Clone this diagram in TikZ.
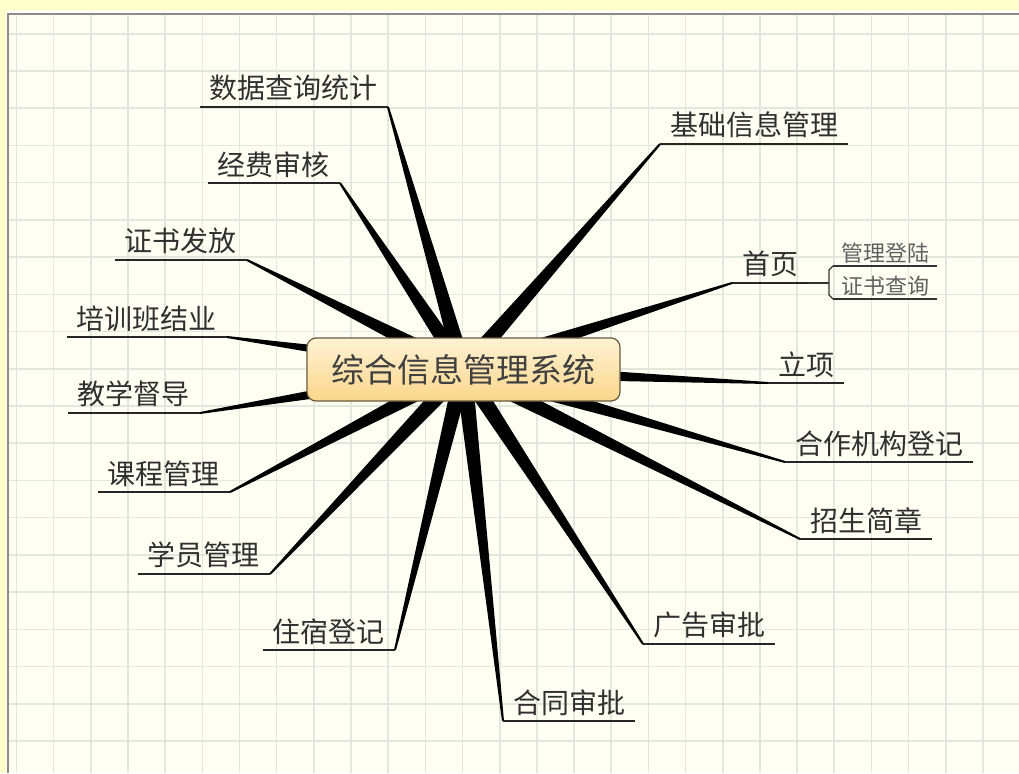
\documentclass[tikz,border=0pt]{standalone}
\usepackage{fontspec}
\setmainfont{Noto Sans CJK SC}
\usetikzlibrary{calc}
\definecolor{paper}{RGB}{255,255,244}
\definecolor{frame}{RGB}{255,255,204}
\definecolor{gridc}{RGB}{226,233,220}
\definecolor{ink}{RGB}{48,48,48}
\definecolor{hubtop}{RGB}{254,242,212}
\definecolor{hubbot}{RGB}{251,214,138}
\definecolor{hubline}{RGB}{105,92,62}

\begin{document}
\begin{tikzpicture}[x=1pt,y=-1pt,
  leaf/.style={font=\fontsize{28pt}{31pt}\selectfont, text=ink, inner xsep=10pt, inner ysep=5.5pt,
    append after command={(\tikzlastnode.south west) edge[line width=1.3pt, black!85] (\tikzlastnode.south east)}},
  subleaf/.style={font=\fontsize{22pt}{25pt}\selectfont, text=black!62, inner xsep=8pt, inner ysep=3pt,
    append after command={(\tikzlastnode.south west) edge[line width=1.1pt, black!80] (\tikzlastnode.south east)}},
  twig/.style={draw=none, fill=black, to path={
    ($(\tikztostart)!8.5pt!90:(\tikztotarget)$) -- ($(\tikztotarget)!1pt!-90:(\tikztostart)$)
    -- ($(\tikztotarget)!1pt!90:(\tikztostart)$) -- ($(\tikztostart)!8.5pt!-90:(\tikztotarget)$) -- cycle}},
  hub/.style={draw=hubline, line width=1.2pt, rounded corners=9pt, top color=hubtop, bottom color=hubbot,
    minimum width=313pt, minimum height=63pt, text=black!75, font=\fontsize{33pt}{36pt}\selectfont}]
\useasboundingbox (0,0) rectangle (1019,773);

% paper and grid
\fill[frame] (0,0) rectangle (1019,773);
\fill[paper] (6,10) rectangle (1019,773);
\foreach \i in {0,...,27} \draw[gridc, line width=1.6pt] (16.5+37.17*\i,15) -- (16.5+37.17*\i,773);
\foreach \j in {0,...,19} \draw[gridc, line width=1.6pt] (9,33.8+37.22*\j) -- (1019,33.8+37.22*\j);
\draw[black!45, line width=1.6pt] (8.2,773) -- (8.2,14.2) -- (1019,14.2);

% branches on the left
\node[leaf, anchor=south east] (sjcx) at (388,107) {数据查询统计};
\node[leaf, anchor=south east] (jfsh) at (340,183) {经费审核};
\node[leaf, anchor=south east] (zsff) at (247,260) {证书发放};
\node[leaf, anchor=south east] (pxbjy) at (227,337) {培训班结业};
\node[leaf, anchor=south east] (jxdd) at (200,413) {教学督导};
\node[leaf, anchor=south east] (kcgl) at (230,492) {课程管理};
\node[leaf, anchor=south east] (xygl) at (270,574) {学员管理};
\node[leaf, anchor=south east] (zsdj) at (395,650) {住宿登记};

% branches on the right
\node[leaf, anchor=south west] (htsp) at (503,721) {合同审批};
\node[leaf, anchor=south west] (ggsp) at (643,644) {广告审批};
\node[leaf, anchor=south west] (zsjz) at (800,539) {招生简章};
\node[leaf, anchor=south west] (hzjg) at (785,462) {合作机构登记};
\node[leaf, anchor=south west] (lx) at (768,383) {立项};
\node[leaf, anchor=south west] (sy) at (732,283) {首页};
\node[leaf, anchor=south west] (jcxx) at (660,144) {基础信息管理};

% sub branches of sy
\coordinate (fork) at (829,283);
\node[subleaf, anchor=south west] (gldl) at (833,266) {管理登陆};
\node[subleaf, anchor=south west] (zscx) at (833,299) {证书查询};
\draw[line width=1.1pt, black!80] (sy.south east) -- (fork);
\draw[line width=1.1pt, black!80] (gldl.south west) -- +(-4,4) -- ($(zscx.south west)+(-4,-4)$) -- (zscx.south west);

% tapered connectors
\coordinate (c) at (463.5,369.5);
\path (c) edge[twig] (sjcx.south east);
\path (c) edge[twig] (jfsh.south east);
\path (c) edge[twig] (zsff.south east);
\path (c) edge[twig] (pxbjy.south east);
\path (c) edge[twig] (jxdd.south east);
\path (c) edge[twig] (kcgl.south east);
\path (c) edge[twig] (xygl.south east);
\path (c) edge[twig] (zsdj.south east);
\path (c) edge[twig] (htsp.south west);
\path (c) edge[twig] (ggsp.south west);
\path (c) edge[twig] (zsjz.south west);
\path (c) edge[twig] (hzjg.south west);
\path (c) edge[twig] (lx.south west);
\path (c) edge[twig] (sy.south west);
\path (c) edge[twig] (jcxx.south west);

\node[hub] (xt) at (c) {综合信息管理系统};
\end{tikzpicture}
\end{document}
